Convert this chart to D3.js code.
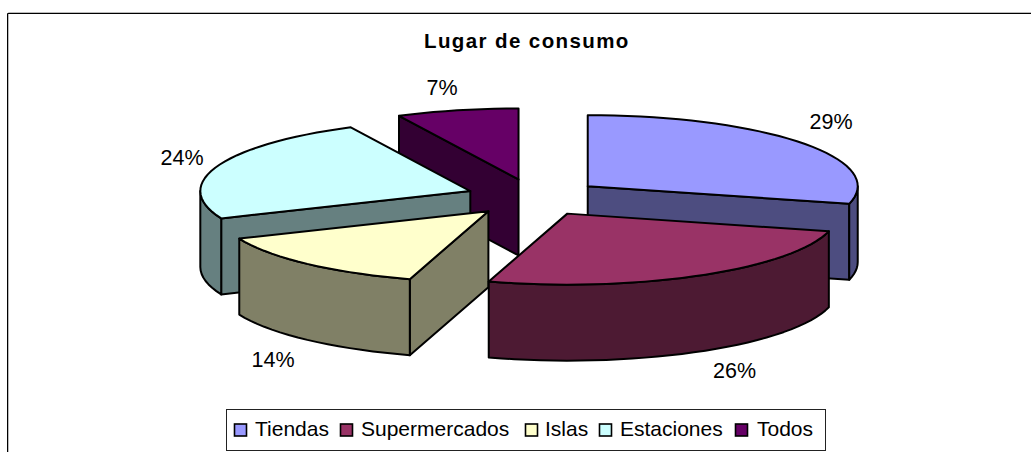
<!DOCTYPE html>
<html><head><meta charset="utf-8">
<script src="https://cdn.jsdelivr.net/npm/d3@7"></script>
<style>html,body{margin:0;padding:0;background:#fff;overflow:hidden}text{font-family:"Liberation Sans",Arial,sans-serif;fill:#000}</style>
</head><body><svg id="c" width="1031" height="452" style="display:block"></svg>
<script>
const categories=["Tiendas","Supermercados","Islas","Estaciones","Todos"];
const values=[29,25.7,14,24,7.3];
const colors=["#9999FF","#993366","#FFFFCC","#CCFFFF","#660066"];
const sideColors=["#4D4D80","#4D1A33","#808066","#668080","#330033"];
const title="Lugar de consumo";
const labelPos=[[831,129],[734.5,378],[273,367],[182,165],[442,95]];
const legendSwatchX=[234.5,340.5,525.5,599.5,735.5];
const legendTextX=[255,361,545,620,757];

const svg=d3.select("#c");
svg.append("path").attr("d","M8.5,452V12.5H1031").attr("fill","none").attr("stroke","#bbb");
svg.append("path").attr("d","M7.5,452V13.5H1031").attr("fill","none").attr("stroke","#000");
svg.append("text").attr("x",424).attr("y",48).attr("font-size",20.5).attr("letter-spacing",1.4).attr("font-weight","bold").text(title);

const cx=534,cy=197.5,rx=270,ry=71,ex=68,ey=18.5,depth=76;
const pie=d3.pie().sort(null).value(d=>d)(values).map((p,i)=>({...p,i}));
const fmt=d3.format(".0%"),total=d3.sum(values);
function pt(s,a,dz){const m=(s.startAngle+s.endAngle)/2;
  return [cx+ex*Math.sin(m)+(a==null?0:rx*Math.sin(a)), cy-ey*Math.cos(m)-(a==null?0:ry*Math.cos(a))+(dz||0)];}
const line=d3.line();
function arcPts(s,a0,a1,dz){const n=Math.max(2,Math.ceil((a1-a0)/0.05));
  return d3.range(n+1).map(k=>pt(s,a0+(a1-a0)*k/n,dz));}
const order=[4,3,0,2,1];
const g=svg.append("g").attr("stroke","#000").attr("stroke-width",2).attr("stroke-linejoin","round");
order.forEach(i=>{const s=pie[i],A=s.startAngle,B=s.endAngle;
  const eps=1e-6;
  const faces=[];
  if(Math.sin(A)<-eps||i===4)faces.push(A);
  if(Math.sin(B)>eps)faces.push(B);
  faces.forEach(a=>{
    g.append("path").attr("fill",sideColors[i]).attr("d",line([pt(s,null),pt(s,a),pt(s,a,depth),pt(s,null,depth)])+"Z");
  });
  const lo=Math.max(A,Math.PI/2),hi=Math.min(B,Math.PI*1.5);
  if(lo<hi){g.append("path").attr("fill",sideColors[i]).attr("d",line([...arcPts(s,lo,hi,0),...arcPts(s,lo,hi,depth).reverse()])+"Z");}
  g.append("path").attr("fill",colors[i]).attr("d",line([pt(s,null),...arcPts(s,A,B,0)])+"Z");
});
values.forEach((v,i)=>svg.append("text").attr("x",labelPos[i][0]).attr("y",labelPos[i][1]).attr("text-anchor","middle").attr("font-size",21.5).text(fmt(v/total)));
svg.append("rect").attr("x",226.5).attr("y",409.5).attr("width",599).attr("height",41).attr("fill","#fff").attr("stroke","#222");
categories.forEach((c,i)=>{
  svg.append("rect").attr("x",legendSwatchX[i]).attr("y",424).attr("width",12).attr("height",12).attr("fill",colors[i]).attr("stroke","#000").attr("stroke-width",1.6);
  svg.append("text").attr("x",legendTextX[i]).attr("y",436).attr("font-size",21).text(c);
});
</script></body></html>
